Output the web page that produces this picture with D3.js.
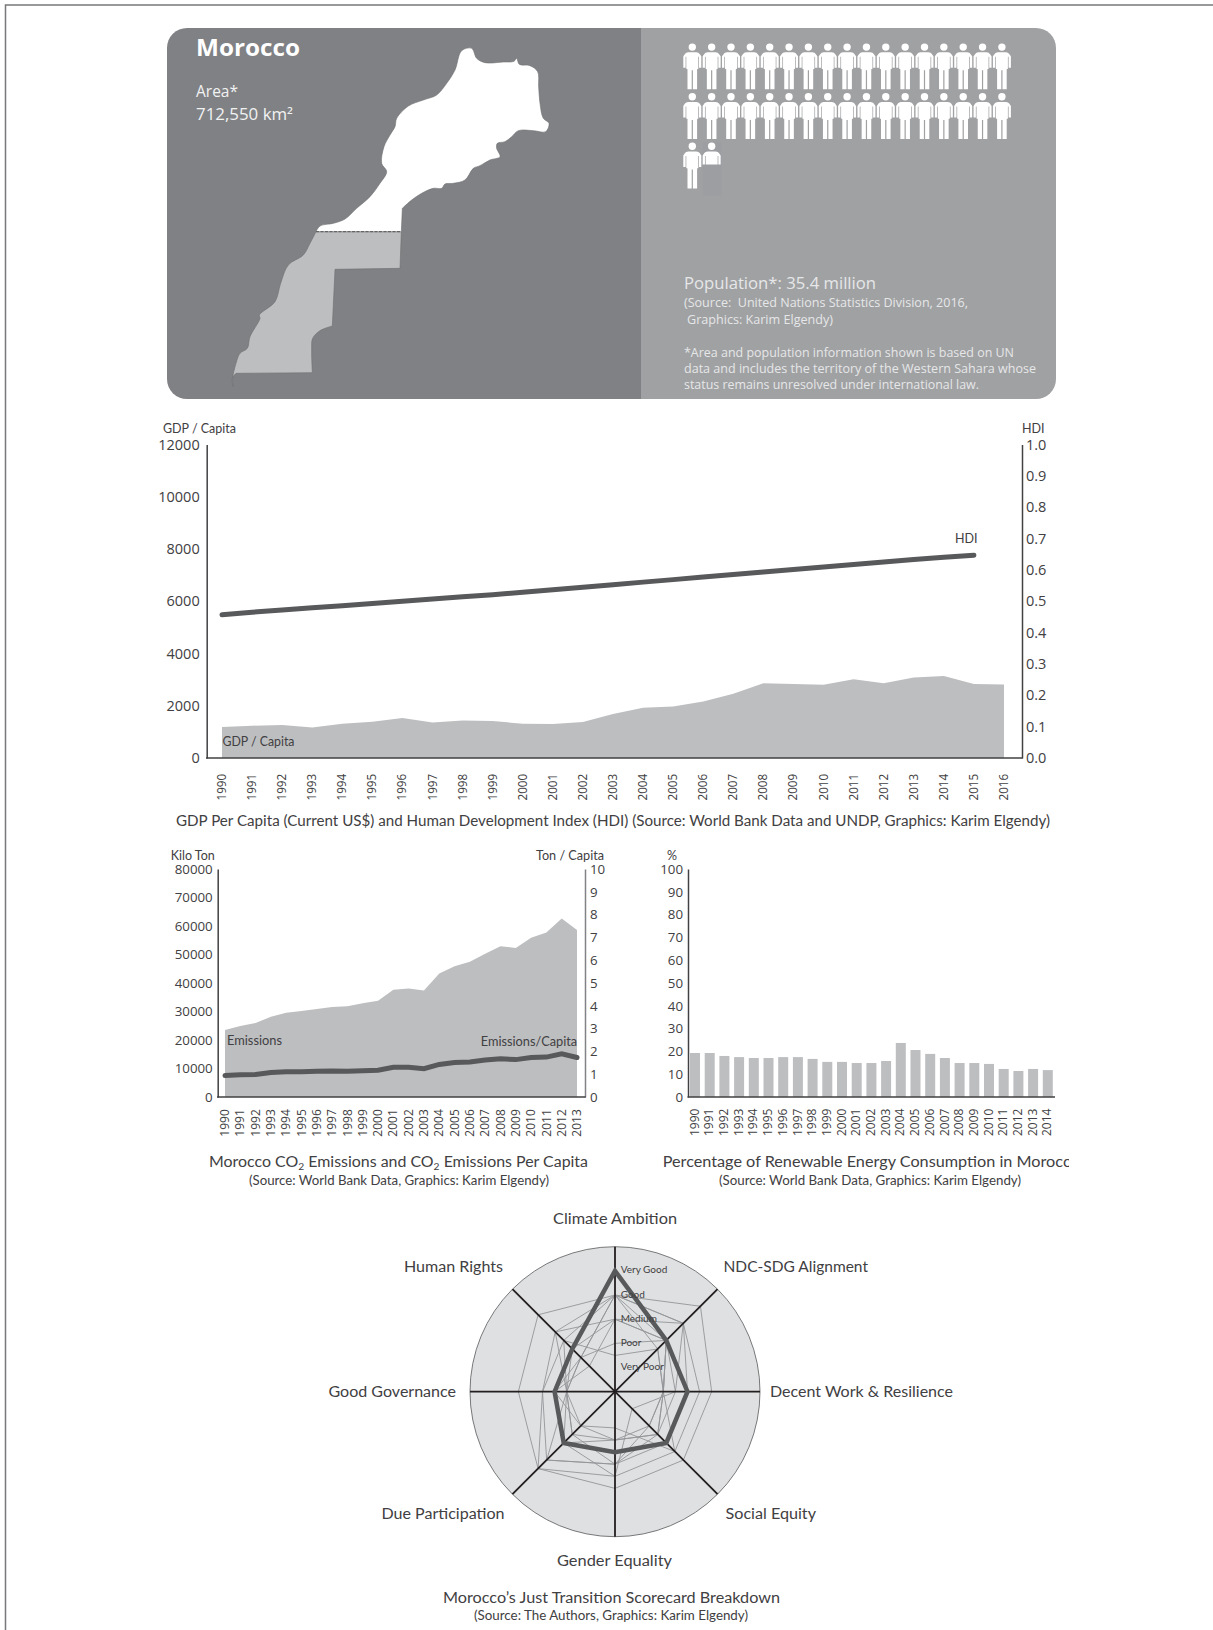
<!DOCTYPE html>
<html>
<head>
<meta charset="utf-8">
<script src="https://cdnjs.cloudflare.com/ajax/libs/d3/7.8.5/d3.min.js"></script>
<style>
  html, body { margin: 0; padding: 0; background: #fff; }
  svg { display: block; }
  text { white-space: pre; }
  .tick text { font-family: "Open Sans", sans-serif; fill: #414042; }
</style>
</head>
<body>
<script>
// Country profile
const populationMillions = 35.4;

// Map outlines, in the units of a 1500 x 1170 drawing box.
// Coasts and wavy borders get a smooth curve, surveyed borders stay straight.
const moroccoWavy = [[468,635],[480,618],[520,610],[555,597],[590,565],[630,530],[660,490],[680,455],[665,430],[672,380],[690,345],[705,320],[710,295],[745,258],[790,240],[830,225],[860,190],[885,150],[905,92],[935,85],[950,115],[975,128],[1030,126],[1062,124],[1070,115],[1078,133],[1110,137],[1133,155],[1136,200],[1140,250],[1150,295],[1167,310],[1157,335],[1120,332],[1075,332],[1055,350],[1035,365],[1012,370],[1010,385],[1020,410],[990,420],[960,437],[940,445],[915,480],[880,490],[855,492],[845,505],[820,505],[785,520],[755,540],[727,565]];
const moroccoStraight = [[727,565],[724,635]];
const saharaStraight = [[468,635],[724,635],[720,745],[525,748],[517,918]];
const saharaInland = [[517,918],[480,932],[458,955],[455,990],[457,1058]];
const saharaSouth = [[457,1058],[228,1060]];
const saharaCoast = [[228,1060],[217,1075],[219,1100],[218,1075],[228,1030],[240,1000],[262,985],[270,950],[300,895],[298,885],[345,845],[362,790],[385,735],[430,705],[450,670],[468,635]];

// GDP per capita and HDI
const gdpYears = [1990,1991,1992,1993,1994,1995,1996,1997,1998,1999,2000,2001,2002,2003,2004,2005,2006,2007,2008,2009,2010,2011,2012,2013,2014,2015,2016];
const gdpValues = [1185,1236,1261,1172,1312,1389,1529,1363,1440,1414,1312,1300,1376,1682,1920,1975,2166,2459,2866,2828,2803,3019,2866,3083,3134,2828,2815];
const hdiValues = [0.457,0.465,0.472,0.479,0.486,0.493,0.500,0.507,0.514,0.521,0.529,0.537,0.545,0.553,0.561,0.569,0.577,0.585,0.593,0.601,0.609,0.617,0.625,0.633,0.640,0.647];

// CO2 emissions
const co2Years = [1990,1991,1992,1993,1994,1995,1996,1997,1998,1999,2000,2001,2002,2003,2004,2005,2006,2007,2008,2009,2010,2011,2012,2013];
const co2Kilotons = [23500,24900,26000,28200,29600,30200,30900,31600,31800,32900,33800,37600,38100,37400,43300,45900,47500,50300,52900,52300,55900,57700,62600,58600];
const co2PerCapita = [0.94,0.98,0.99,1.07,1.11,1.11,1.13,1.14,1.13,1.15,1.17,1.30,1.30,1.24,1.43,1.51,1.54,1.62,1.68,1.64,1.73,1.75,1.89,1.73];

// Renewable energy share
const renewableYears = [1990,1991,1992,1993,1994,1995,1996,1997,1998,1999,2000,2001,2002,2003,2004,2005,2006,2007,2008,2009,2010,2011,2012,2013,2014];
const renewableShare = [19.3,19.3,18.0,17.5,17.1,17.1,17.5,17.5,16.7,15.4,15.4,14.9,14.9,15.8,23.7,20.6,18.9,17.1,14.9,14.9,14.5,12.3,11.4,12.3,11.8];

// Scorecard, clockwise from the top
const scoreAxes = ["Climate Ambition","NDC-SDG Alignment","Decent Work & Resilience","Social Equity","Gender Equality","Due Participation","Good Governance","Human Rights"];
const scoreLevels = ["Very Poor","Poor","Medium","Good","Very Good"];
const moroccoScores = [5,3,3,3,2.5,3,2.5,2.5];
const otherCountryScores = [
  [4,5,4,4,4,4.5,4,4.5],
  [4,4,3.5,3.5,3.5,4.5,3,3.5],
  [4,4,3,3,3,4,3,3],
  [3,4,2.5,2.5,3,4,2,3.5],
  [3,3,2,2.5,2,2.5,2,2.5],
  [2,3,2,2,2,2,2,2],
  [1.5,2.5,2,2,3,2.5,2,3],
  [4,2.5,2,2.5,2,3,2,2],
  [3,3,2,3.5,1.5,2,2.5,1.5],
  [4,3,2.5,1,3.5,3,2.5,2]
];

const OPEN = '"Open Sans", sans-serif';
const LATO = 'Lato, sans-serif';
const DARK = "#414042";
const BAND = "#bdbec0";
const LINE = "#58595b";

const svg = d3.select("body").append("svg")
    .attr("width", 1213)
    .attr("height", 1630);

svg.append("rect").attr("width", 1213).attr("height", 1630).attr("fill", "#fff");

// Page frame, only top and left are in the picture
svg.append("path")
    .attr("d", "M5.5,1630V5H1213")
    .attr("fill", "none")
    .attr("stroke", "#77787b")
    .attr("stroke-width", 1.5);

function label(x, y, str, size, opts = {}) {
  const t = svg.append("text")
      .attr("x", x).attr("y", y)
      .attr("font-family", opts.font || LATO)
      .attr("font-size", size)
      .attr("font-weight", opts.weight || 400)
      .attr("fill", opts.fill || DARK)
      .attr("text-anchor", opts.anchor || "start")
      .text(str);
  if (opts.width) t.attr("textLength", opts.width).attr("lengthAdjust", "spacingAndGlyphs");
  return t;
}

// ---- top panel ----
const panelTop = 28, panelBottom = 399, panelLeft = 167, panelRight = 1056, panelMid = 641;

svg.append("clipPath").attr("id", "panelClip").append("rect")
    .attr("x", panelLeft).attr("y", panelTop)
    .attr("width", panelRight - panelLeft).attr("height", panelBottom - panelTop)
    .attr("rx", 20);

const panel = svg.append("g").attr("clip-path", "url(#panelClip)");
panel.append("rect").attr("x", panelLeft).attr("y", panelTop)
    .attr("width", panelMid - panelLeft).attr("height", panelBottom - panelTop).attr("fill", "#808184");
panel.append("rect").attr("x", panelMid).attr("y", panelTop)
    .attr("width", panelRight - panelMid).attr("height", panelBottom - panelTop).attr("fill", "#a0a1a3");

const mapX = d3.scaleLinear().domain([0, 1500]).range([160, 660]);
const mapY = d3.scaleLinear().domain([0, 1170]).range([20, 410]);
const straight = d3.line().x(d => mapX(d[0])).y(d => mapY(d[1]));
const smooth = d3.line().x(d => mapX(d[0])).y(d => mapY(d[1])).curve(d3.curveCatmullRom.alpha(0.5));

// joins the pieces of one outline into one path
const joinPieces = pieces => pieces.map((d, i) => i ? d.replace(/^M/, "L") : d).join("") + "Z";

svg.append("path")
    .attr("d", joinPieces([straight(saharaStraight), smooth(saharaInland), straight(saharaSouth), smooth(saharaCoast)]))
    .attr("fill", BAND).attr("stroke", "#6d6e71").attr("stroke-width", 0.6);
svg.append("path")
    .attr("d", joinPieces([smooth(moroccoWavy), straight(moroccoStraight)]))
    .attr("fill", "#fff").attr("stroke", "#6d6e71").attr("stroke-width", 0.6);
svg.append("line")
    .attr("x1", mapX(468)).attr("x2", mapX(724))
    .attr("y1", mapY(635)).attr("y2", mapY(635))
    .attr("stroke", "#58595b").attr("stroke-width", 1).attr("stroke-dasharray", "3,1.5");

label(196, 56, "Morocco", 23.5, {font: OPEN, weight: 700, fill: "#fff", width: 104});
label(196, 97, "Area*", 15.5, {font: OPEN, fill: "#f1f2f2"});
label(196, 120, "712,550 km²", 15.5, {font: OPEN, fill: "#f1f2f2", width: 97});

// People, one figure per million, the last figure cut at the fraction
const peoplePerRow = 17, personW = 18, personH = 46;
const personX = d3.scaleLinear().domain([0, 1]).range([683.3, 702.65]);
const personY = d3.scaleLinear().domain([0, 1]).range([43.3, 92.9]);
const personBody = "M1.7,10.6Q2.6,9,5,9H13Q15.4,9,16.3,10.6L18,13V24.5H15.7V13.5H15V25.5L13.8,26V46H9.6V27H8.4V46H4.2V26L3,25.5V13.5H2.3V24.5H0V13Z";

const people = d3.range(Math.ceil(populationMillions)).map(i => ({
  i,
  share: Math.min(1, populationMillions - i)
}));

const personG = svg.append("g").selectAll("g")
    .data(people)
    .enter().append("g")
    .attr("transform", d => `translate(${personX(d.i % peoplePerRow)},${personY(Math.floor(d.i / peoplePerRow))})`);

// faint box behind the cut figure
personG.filter(d => d.share < 1).append("rect")
    .attr("x", 0).attr("y", 0).attr("width", personW + 1).attr("height", personH + 7)
    .attr("fill", "#9d9ea1");

personG.each(function(d) {
  const g = d3.select(this);
  const id = "p" + d.i;
  g.append("clipPath").attr("id", id).append("rect")
      .attr("x", -1).attr("y", -1).attr("width", personW + 2)
      .attr("height", d.share < 1 ? personH * 0.5 : personH + 2);
  const inner = g.append("g").attr("clip-path", `url(#${id})`).attr("fill", "#fff");
  inner.append("circle").attr("cx", personW / 2).attr("cy", 3.8).attr("r", 3.7);
  inner.append("path").attr("d", personBody);
});

const noteFill = "#e6e7e8";
label(684, 289, "Population*: 35.4 million", 17, {font: OPEN, fill: noteFill, width: 192});
label(684, 307, "(Source:  United Nations Statistics Division, 2016,", 12, {font: OPEN, fill: noteFill, width: 284});
label(687, 324, "Graphics: Karim Elgendy)", 12, {font: OPEN, fill: noteFill, width: 146});
label(684, 357, "*Area and population information shown is based on UN", 12, {font: OPEN, fill: noteFill, width: 330});
label(684, 373, "data and includes the territory of the Western Sahara whose", 12, {font: OPEN, fill: noteFill, width: 352});
label(684, 389, "status remains unresolved under international law.", 12, {font: OPEN, fill: noteFill, width: 295});

// ---- shared axis helpers ----
function yAxis(scale, x, generator, color, size) {
  const g = svg.append("g").attr("transform", `translate(${x},0)`).call(generator);
  g.select(".domain").attr("stroke", color).attr("stroke-width", 1.5);
  g.selectAll(".tick line").remove();
  g.selectAll(".tick text").attr("font-size", size);
  return g;
}

function yearAxis(scale, baseY, labelBottom, size) {
  const g = svg.append("g").attr("transform", `translate(0,${baseY})`)
      .call(d3.axisBottom(scale).tickSize(0));
  g.select(".domain").remove();
  g.selectAll(".tick text")
      .attr("font-size", size)
      .attr("text-anchor", "start")
      .attr("x", 0).attr("dx", null)
      .attr("y", 0).attr("dy", "0.3em")
      .attr("transform", `translate(0,${labelBottom - baseY}) rotate(-90)`);
}

function baseLine(x1, x2, y, color) {
  svg.append("line").attr("x1", x1).attr("x2", x2).attr("y1", y).attr("y2", y)
      .attr("stroke", color).attr("stroke-width", 1.5);
}

// ---- GDP and HDI ----
const gdpX = d3.scalePoint().domain(gdpYears).range([222, 1004]);
const gdpY = d3.scaleLinear().domain([0, 12000]).range([758, 444.5]);
const hdiY = d3.scaleLinear().domain([0, 1]).range([758, 444.5]);

svg.append("path")
    .datum(gdpYears.map((y, i) => [y, gdpValues[i]]))
    .attr("fill", BAND)
    .attr("d", d3.area().x(d => gdpX(d[0])).y0(gdpY(0)).y1(d => gdpY(d[1])));

svg.append("path")
    .datum(hdiValues.map((v, i) => [gdpYears[i], v]))
    .attr("fill", "none").attr("stroke", LINE).attr("stroke-width", 5).attr("stroke-linecap", "round")
    .attr("d", d3.line().x(d => gdpX(d[0])).y(d => hdiY(d[1])));

yAxis(gdpY, 206.7, d3.axisLeft(gdpY).ticks(6).tickFormat(d3.format("d")).tickSize(0).tickPadding(7), DARK, 14.5);
yAxis(hdiY, 1022, d3.axisRight(hdiY).ticks(10).tickFormat(d3.format(".1f")).tickSize(0).tickPadding(4), DARK, 14.5);
baseLine(206, 1022.7, 758, DARK);
yearAxis(gdpX, 758, 800.5, 11.7);

label(163, 433, "GDP / Capita", 12.5, {width: 73});
label(1022, 433, "HDI", 12.5);
label(955, 543, "HDI", 12.5);
label(222.5, 746, "GDP / Capita", 12.5, {width: 72});
label(176, 826, "GDP Per Capita (Current US$) and Human Development Index (HDI) (Source: World Bank Data and UNDP, Graphics: Karim Elgendy)", 15.5, {width: 874});

// ---- CO2 ----
const co2X = d3.scalePoint().domain(co2Years).range([225, 577]);
const co2Y = d3.scaleLinear().domain([0, 80000]).range([1097, 869]);
const perCapY = d3.scaleLinear().domain([0, 10]).range([1097, 869]);

svg.append("path")
    .datum(co2Years.map((y, i) => [y, co2Kilotons[i]]))
    .attr("fill", BAND)
    .attr("d", d3.area().x(d => co2X(d[0])).y0(co2Y(0)).y1(d => co2Y(d[1])));

svg.append("path")
    .datum(co2Years.map((y, i) => [y, co2PerCapita[i]]))
    .attr("fill", "none").attr("stroke", LINE).attr("stroke-width", 5).attr("stroke-linecap", "round")
    .attr("d", d3.line().x(d => co2X(d[0])).y(d => perCapY(d[1])));

yAxis(co2Y, 217.7, d3.axisLeft(co2Y).ticks(8).tickFormat(d3.format("d")).tickSize(0).tickPadding(5), DARK, 13.3);
yAxis(perCapY, 585, d3.axisRight(perCapY).ticks(10).tickSize(0).tickPadding(5), "#808285", 13.3);
baseLine(217, 585.7, 1097, DARK);
yearAxis(co2X, 1097, 1136.7, 12);

label(170.7, 859.5, "Kilo Ton", 12.5, {width: 44});
label(536, 859.5, "Ton / Capita", 12.5, {width: 68});
label(227, 1045, "Emissions", 13, {width: 55});
label(480.7, 1046, "Emissions/Capita", 13, {width: 96.5});

const co2Caption = label(209, 1167, "", 15.5, {});
co2Caption.attr("textLength", 379).attr("lengthAdjust", "spacingAndGlyphs");
co2Caption.append("tspan").text("Morocco CO");
co2Caption.append("tspan").text("2").attr("font-size", 10).attr("dy", 3);
co2Caption.append("tspan").text(" Emissions and CO").attr("dy", -3);
co2Caption.append("tspan").text("2").attr("font-size", 10).attr("dy", 3);
co2Caption.append("tspan").text(" Emissions Per Capita").attr("dy", -3);
label(249, 1185, "(Source: World Bank Data, Graphics: Karim Elgendy)", 12.5, {width: 300});

// ---- renewable share ----
const renX = d3.scaleBand().domain(renewableYears).range([685.3, 1057.5]).padding(0.32);
const renY = d3.scaleLinear().domain([0, 100]).range([1097, 869]);

svg.append("g").selectAll("rect")
    .data(renewableYears.map((y, i) => [y, renewableShare[i]]))
    .enter().append("rect")
    .attr("x", d => renX(d[0]))
    .attr("y", d => renY(d[1]))
    .attr("width", renX.bandwidth())
    .attr("height", d => renY(0) - renY(d[1]))
    .attr("fill", BAND);

yAxis(renY, 688, d3.axisLeft(renY).ticks(10).tickSize(0).tickPadding(5), DARK, 13.3);
baseLine(687.5, 1055, 1097, DARK);
yearAxis(renX, 1097, 1136, 12);

label(667, 859.5, "%", 12.5);

svg.append("clipPath").attr("id", "capClip").append("rect")
    .attr("x", 650).attr("y", 1145).attr("width", 419).attr("height", 30);
label(662.7, 1167, "Percentage of Renewable Energy Consumption in Morocco", 15.5, {width: 417})
    .attr("clip-path", "url(#capClip)");
label(719, 1185, "(Source: World Bank Data, Graphics: Karim Elgendy)", 12.5, {width: 302});

// ---- scorecard radar ----
const cx = 615, cy = 1391.7, outerR = 145;
const radius = d3.scaleLinear().domain([0, 6]).range([0, outerR]);
const angle = d3.scalePoint().domain(d3.range(scoreAxes.length + 1)).range([0, 2 * Math.PI]);
const radar = svg.append("g").attr("transform", `translate(${cx},${cy})`);

radar.append("circle").attr("r", outerR).attr("fill", "#dfe0e1").attr("stroke", "#58595b").attr("stroke-width", 0.8);

const radarLine = d3.lineRadial()
    .angle((d, i) => angle(i))
    .radius(d => radius(d))
    .curve(d3.curveLinearClosed);

radar.selectAll(".other")
    .data(otherCountryScores)
    .enter().append("path")
    .attr("class", "other")
    .attr("d", radarLine)
    .attr("fill", "none")
    .attr("stroke", "#939598")
    .attr("stroke-width", 0.9);

radar.selectAll(".spoke")
    .data(scoreAxes)
    .enter().append("line")
    .attr("class", "spoke")
    .attr("x2", (d, i) => outerR * Math.sin(angle(i)))
    .attr("y2", (d, i) => -outerR * Math.cos(angle(i)))
    .attr("stroke", "#231f20")
    .attr("stroke-width", 1.8);

radar.append("path")
    .attr("d", radarLine(moroccoScores))
    .attr("fill", "none")
    .attr("stroke", LINE)
    .attr("stroke-width", 4.5)
    .attr("stroke-linejoin", "miter");

radar.selectAll(".level")
    .data(scoreLevels)
    .enter().append("text")
    .attr("class", "level")
    .attr("x", 5.7)
    .attr("y", (d, i) => -radius(i + 1) + 2.5)
    .attr("font-family", LATO)
    .attr("font-size", 10)
    .attr("fill", DARK)
    .text(d => d);

// names of the axes
label(553, 1224, scoreAxes[0], 15.5, {width: 124});
label(723.5, 1272, scoreAxes[1], 15.5, {width: 144.5});
label(770, 1396.5, scoreAxes[2], 15.5, {width: 183});
label(725.5, 1518.5, scoreAxes[3], 15.5, {width: 90.5});
label(557, 1566, scoreAxes[4], 15.5, {width: 115});
label(381.5, 1518.5, scoreAxes[5], 15.5, {width: 123});
label(328.5, 1396.5, scoreAxes[6], 15.5, {width: 127.5});
label(404, 1272, scoreAxes[7], 15.5, {width: 99});

label(443, 1602.5, "Morocco’s Just Transition Scorecard Breakdown", 15.5, {width: 337});
label(474, 1619.5, "(Source: The Authors, Graphics: Karim Elgendy)", 12.5, {width: 274});
</script>
</body>
</html>
